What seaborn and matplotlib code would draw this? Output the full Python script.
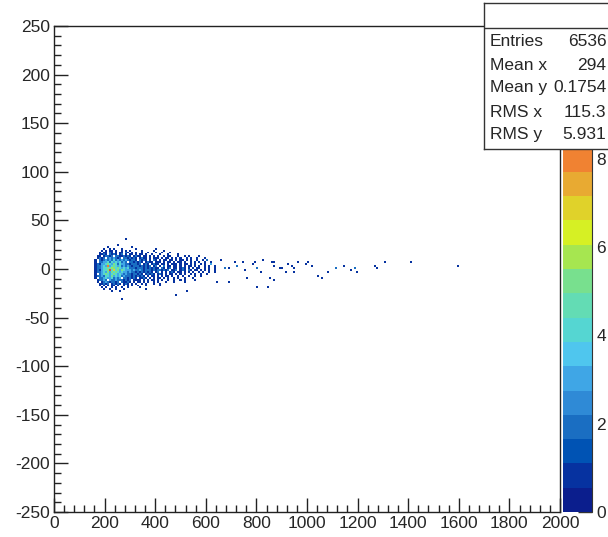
import numpy as np
import pandas as pd
import matplotlib
matplotlib.use("Agg")
import matplotlib.pyplot as plt
from matplotlib.colors import ListedColormap
from matplotlib.ticker import MultipleLocator
from matplotlib.lines import Line2D
import seaborn as sns

# ---------------- data ----------------
# dense core: bin contents on an 8 x 2 grid, first column x = 160, first row y = 22..24
core_x0 = 160
core_xbin = 8
core_ytop = 22
core_ybin = 2
core_rows = [
    "......1...........1",
    "....1..1.1...1......1.........1",
    "...1.1.11.1..1.1.1.....1.....1....1",
    "..1.11.21.1.11.21.1.1..1..1...1..1...1",
    "..1121.2121.12.1.11.1.11.1..1...1...1....1",
    ".11.12212.22112121.1211.11.1.1.1..1.11...1..1.1....1",
    ".1212.2323212.2212121.1211.1.111.1.11.1.1.1..1.1..1...1",
    "1.2123232423232321221.2121.1.21.1.11.11.1.11.1.1..1..1.1",
    "1.22334243434232.2212121.1211.111.1.11.1.11.1..1.1.1..1..1",
    "12133454354243322122212.121.1211.11.1.111.1.11.1.1..1.1..1",
    "1223438345434232321222121212.12.1.2.11.11.1.1.11.1.1..1.1..1",
    "12234454654543434222122212121211.21.12.11.121.1.1.11..1.1..1",
    "1213445947453543332322321222121221212.112.121.21.11.1.1.1..1",
    "12234353545434332322121212121.12.1.1.121.11.1.1.1..1.1..1..1",
    "1.2345434543432322122121.12121.121.1.11.1.1.1..1.1..1..1",
    "1223244353434232221212121.1.11.1.1.11.1..1.1..1..1..1",
    "1.22343342323.2212121.1121.1.1.11.1.1..1.1..1...1",
    ".12232.32232221212.1111.1.1.11.1.1..1..1..1.1....1",
    ".1.123212212.21121.1.11.1.1..1.1...1...1....1",
    "..11212.12121.121.1.1..1.1...1..1",
    "..1.1.1.11.1..1.1.1..1...1......1",
    "...1.1..1.1..1..1.....1",
    "....1..1..1...1..........1",
    "........1...1",
]

# isolated points outside the core
tail_x = [285, 250, 265, 483, 523, 602, 622, 645, 661, 673, 693, 693, 713, 725, 745,
          752, 764, 785, 792, 804, 804, 820, 824, 847, 851, 859, 865, 871, 871, 890,
          899, 917, 923, 943, 950, 950, 962, 998, 1006, 1017, 1040, 1057, 1081, 1112,
          1144, 1172, 1184, 1192, 1267, 1279, 1311, 1410, 1592]
tail_y = [30, 25, -31, -27, -23, 9, 4, -14, 9, 1, 1, -14, 7, 2, 7,
          -1, -9, 5, 7, 1, -19, -3, 8, -20, -9, 7, 6, 2, -11, 1,
          1, -4, 4, 2, 1, -4, 6, 4, 7, 3, -7, -9, -3, 1,
          3, -1, 0, -4, 2, 0, 6, 6, 3]
tail_n = [1, 1, 1, 1, 1, 1, 2, 1, 1, 2, 1, 1, 1, 2, 1,
          1, 1, 1, 1, 2, 1, 1, 1, 1, 1, 1, 1, 1, 1, 1,
          1, 1, 1, 1, 1, 1, 1, 1, 1, 1, 1, 1, 1, 2,
          1, 1, 2, 1, 1, 1, 1, 1, 1]

x_ticks = list(range(0, 2001, 200))
y_ticks = list(range(-250, 251, 50))
z_ticks = [0, 2, 4, 6, 8]

stats_labels = ["Entries", "Mean x", "Mean y", "RMS x", "RMS y"]
stats_values = ["6536", "294", "0.1754", "115.3", "5.931"]

palette = ["#0b1e8d", "#0632a0", "#0053b4", "#1a6ec2", "#2f8ad6", "#3fa6e6",
           "#4fc6ee", "#55d6d2", "#63dcb4", "#78e08e", "#a6e650", "#d6f024",
           "#e0d22a", "#e8aa32", "#f08232", "#f06a2c", "#e85426", "#e04020",
           "#d83018", "#d02010"]

# ---------------- build table ----------------
xs, ys, ws = [], [], []
for r, row in enumerate(core_rows):
    yc = core_ytop - core_ybin * r + core_ybin / 2
    for c, ch in enumerate(row):
        if ch == ".":
            continue
        v = int(ch, 16)
        xs.append(core_x0 + core_xbin * c + core_xbin / 2)
        ys.append(yc)
        ws.append(v)
xs += tail_x
ys += tail_y
ws += tail_n
df = pd.DataFrame({"x": xs, "y": ys, "w": ws})

# ---------------- style ----------------
sns.set_style("white")
plt.rcParams["font.family"] = ["Liberation Sans", "DejaVu Sans"]
plt.rcParams["axes.unicode_minus"] = False

W, H = 608, 537
fig = plt.figure(figsize=(W / 100, H / 100), dpi=100)
fig.patch.set_facecolor("white")

ax = fig.add_axes([54 / W, 1 - 512 / H, (560 - 54) / W, (512 - 26) / H])
cax = fig.add_axes([563 / W, 1 - 512 / H, (592 - 563) / W, (512 - 26) / H])

cmap = ListedColormap(palette)
sns.histplot(data=df, x="x", y="y", weights="w", binwidth=(8, 2),
             binrange=((0, 2000), (-250, 250)), cmap=cmap, vmin=0, vmax=11,
             cbar=True, cbar_ax=cax, ax=ax)

ax.set_xlim(0, 2000)
ax.set_ylim(-250, 250)
ax.set_xlabel("")
ax.set_ylabel("")
ax.set_xticks(x_ticks)
ax.set_yticks(y_ticks)
ax.xaxis.set_minor_locator(MultipleLocator(40))
ax.yaxis.set_minor_locator(MultipleLocator(10))
ax.tick_params(which="major", direction="in", length=10, width=1, color="#222222",
               labelsize=12.5, top=False, right=False, bottom=True, left=True)
ax.tick_params(which="minor", direction="in", length=5, width=1, color="#222222",
               top=False, right=False, bottom=True, left=True)
ax.tick_params(axis="x", which="major", pad=3)
ax.tick_params(axis="y", which="major", pad=3)
for s in ax.spines.values():
    s.set_visible(True)
    s.set_color("#222222")
    s.set_linewidth(1)

# colorbar axis
cax.set_ylim(0, 11)
cax.set_yticks(z_ticks)
cax.yaxis.set_minor_locator(plt.NullLocator())
cax.yaxis.set_ticks_position("right")
cax.tick_params(axis="y", direction="in", length=10, width=1, color="#333333",
                labelsize=12.5, pad=3)
for s in cax.spines.values():
    s.set_visible(False)
cax.add_line(Line2D([1, 1], [0, 1], transform=cax.transAxes, color="#333333",
                    lw=0.8, clip_on=False))

# stats box
sax = fig.add_axes([484 / W, 1 - 149 / H, 130 / W, (149 - 3) / H])
sax.set_zorder(10)
sax.set_facecolor("white")
sax.set_xlim(0, 1)
sax.set_ylim(0, 1)
sax.set_xticks([])
sax.set_yticks([])
for s in sax.spines.values():
    s.set_color("#333333")
    s.set_linewidth(1)
sax.add_line(Line2D([0, 1], [0.829, 0.829], color="#333333", lw=1))
row_y = [0.735, 0.575, 0.418, 0.253, 0.096]
for lab, val, yy in zip(stats_labels, stats_values, row_y):
    sax.text(6 / 130, yy, lab, ha="left", va="center", fontsize=12.5)
    sax.text(122.5 / 130, yy, val, ha="right", va="center", fontsize=12.5)

fig.savefig("out.png", dpi=100, facecolor="white")
